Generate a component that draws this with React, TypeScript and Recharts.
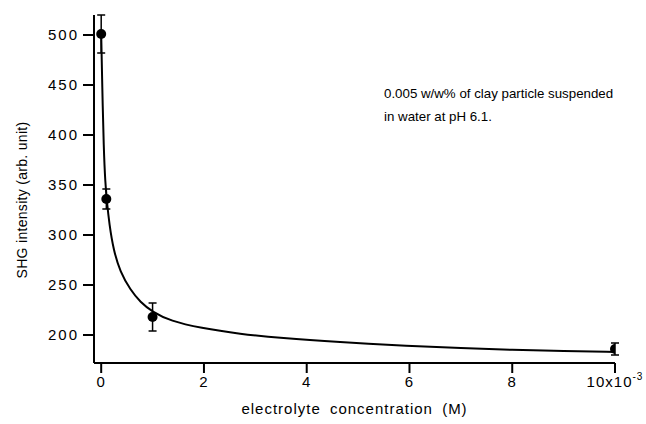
import React from 'react';
import { ComposedChart, Line, Scatter, XAxis, YAxis, ErrorBar, Label } from 'recharts';

const pointX = [0, 0.1, 1, 10];
const pointY = [501, 336, 218, 186];
const pointErr = [19, 10, 14, 6];

const curveX = [0, 0.02, 0.05, 0.08, 0.11, 0.16, 0.24, 0.37, 0.57, 0.76, 1.0, 1.35, 1.93, 2.7, 3.5, 4.6, 6, 7, 8, 9, 10];
const curveY = [501, 450, 385, 352, 334, 310, 285, 263, 245, 233, 223, 214, 207, 201, 197, 193, 189, 187, 185, 184, 183];

const xTicks = [0, 2, 4, 6, 8, 10];
const yTicks = [200, 250, 300, 350, 400, 450, 500];

const points = pointX.map((x, i) => ({ x, y: pointY[i], err: pointErr[i] }));
const curve = curveX.map((x, i) => ({ x, y: curveY[i] }));

const FONT = 'Liberation Sans, Arial, Helvetica, sans-serif';

const XTick = (props: any) => {
  const { x, y, payload } = props;
  const v = payload.value;
  return (
    <text x={x} y={y} dy="0.71em" textAnchor="middle" fontFamily={FONT} fontSize={15} fill="#000" letterSpacing={1}>
      {v === 10 ? (
        <>
          <tspan>10x10</tspan>
          <tspan dy={-7} fontSize={10}>-3</tspan>
        </>
      ) : (
        String(v)
      )}
    </text>
  );
};

const YTick = (props: any) => {
  const { x, y, payload } = props;
  return (
    <text x={x} y={y} dy="0.36em" textAnchor="end" fontFamily={FONT} fontSize={15} fill="#000" letterSpacing={2}>
      {String(payload.value)}
    </text>
  );
};

const Dot = (p: any) => <circle cx={p.cx} cy={p.cy} r={5} fill="#000" />;

export default function App() {
  return (
    <div style={{ position: 'absolute', left: 0, top: 0, width: 646, height: 424, background: '#fff' }}>
      <ComposedChart width={646} height={424} margin={{ top: 15, right: 31, left: 0, bottom: 0 }}>
        <XAxis
          dataKey="x"
          type="number"
          domain={[-0.14, 10]}
          allowDataOverflow
          ticks={xTicks}
          tick={<XTick />}
          tickSize={10}
          tickMargin={3}
          height={61}
          axisLine={{ stroke: '#000', strokeWidth: 2 }}
          tickLine={{ stroke: '#000', strokeWidth: 2 }}
        >
          <Label
            content={(p: any) => {
              const vb = p.viewBox || {};
              return (
                <text x={vb.x + vb.width / 2} y={414} textAnchor="middle" fontFamily={FONT} fontSize={15} fill="#000" letterSpacing={1} wordSpacing={4}>
                  electrolyte concentration (M)
                </text>
              );
            }}
          />
        </XAxis>
        <YAxis
          dataKey="y"
          type="number"
          domain={[172, 520]}
          allowDataOverflow
          ticks={yTicks}
          tick={<YTick />}
          tickSize={11}
          tickMargin={4}
          width={94}
          axisLine={{ stroke: '#000', strokeWidth: 2 }}
          tickLine={{ stroke: '#000', strokeWidth: 2 }}
        >
          <Label
            content={() => (
              <text transform="translate(27,200) rotate(-90)" textAnchor="middle" fontFamily={FONT} fontSize={14} letterSpacing={0.3} fill="#000">
                SHG intensity (arb. unit)
              </text>
            )}
          />
        </YAxis>
        <Line
          data={curve}
          dataKey="y"
          type="basis"
          stroke="#000"
          strokeWidth={2}
          dot={false}
          activeDot={false}
          isAnimationActive={false}
        />
        <Scatter data={points} dataKey="y" shape={<Dot />} isAnimationActive={false}>
          <ErrorBar dataKey="err" direction="y" width={4} stroke="#000" strokeWidth={1.5} />
        </Scatter>
      </ComposedChart>
      <div
        style={{
          position: 'absolute',
          left: 384,
          top: 82,
          fontFamily: FONT,
          fontSize: 13.3,
          lineHeight: '23px',
          color: '#000',
          whiteSpace: 'nowrap',
        }}
      >
        0.005 w/w% of clay particle suspended
        <br />
        in water at pH 6.1.
      </div>
    </div>
  );
}
